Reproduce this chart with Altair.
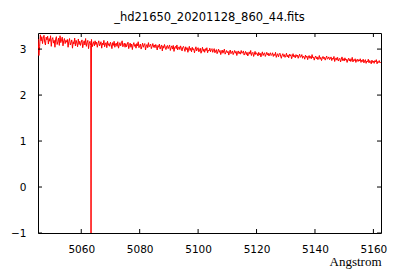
import altair as alt
import pandas as pd

title_text = "_hd21650_20201128_860_44.fits"
x_start = 5045.25
x_step = 0.25
flux = [
    3.22, 2.86, 3.05, 3.31, 3.18, 3.27, 3.12, 3.24, 3.30, 3.15, 3.09, 3.26, 3.20, 3.28, 3.11, 3.23, 3.17, 3.29, 3.06, 3.21,
    3.25, 3.13, 3.19, 3.04, 3.22, 3.27, 3.10, 3.16, 3.24, 3.08, 3.29, 3.14, 3.20, 3.26, 3.07, 3.18, 3.23, 3.12, 3.19, 3.15,
    3.21, 3.04, 3.17, 3.23, 3.09, 3.14, 3.20, 3.02, 3.16, 3.11, 3.24, 3.07, 3.19, 3.13, 3.05, 3.22, 3.10, 3.17, 3.08, 3.15,
    3.20, 3.03, 3.12, 3.18, 3.09, 3.23, 3.06, 3.14, 3.19, 3.01, 3.13, 3.17, 3.08, 3.21, 3.05, 3.11, 3.16, 3.07, 3.18, 3.10,
    3.15, 3.04, 3.12, 3.18, 3.07, 3.10, 3.16, 3.02, 3.13, 3.09, 3.19, 3.05, 3.11, 3.14, 3.03, 3.17, 3.08, 3.12, 3.06, 3.15,
    3.10, 3.01, 3.14, 3.08, 3.17, 3.04, 3.11, 3.13, 3.06, 3.16, 3.02, 3.09, 3.14, 3.07, 3.12, 3.18, 3.05, 3.10, 3.13, 3.04,
    3.12, 3.05, 3.10, 3.15, 3.01, 3.08, 3.13, 3.04, 3.11, 2.99, 3.09, 3.14, 3.06, 3.10, 3.02, 3.12, 3.07, 3.16, 3.03, 3.08,
    3.11, 3.00, 3.06, 3.13, 3.04, 3.09, 3.12, 2.98, 3.07, 3.10, 3.03, 3.14, 3.05, 3.08, 3.11, 3.01, 3.06, 3.12, 3.04, 3.09,
    3.03, 3.10, 3.06, 2.98, 3.08, 3.04, 3.11, 3.00, 3.05, 3.09, 2.96, 3.07, 3.02, 3.10, 3.04, 2.99, 3.06, 3.08, 3.01, 3.05,
    3.09, 2.97, 3.03, 3.07, 3.00, 3.08, 2.95, 3.04, 3.06, 3.01, 3.09, 2.98, 3.03, 3.05, 2.99, 3.07, 3.02, 2.96, 3.04, 3.06,
    3.01, 2.95, 3.05, 2.99, 3.03, 2.93, 3.00, 3.06, 2.97, 3.02, 2.94, 3.04, 2.98, 3.01, 2.92, 2.99, 3.05, 2.96, 3.00, 3.03,
    2.94, 2.98, 3.02, 2.91, 2.97, 3.04, 2.95, 3.00, 2.93, 3.01, 2.97, 3.03, 2.92, 2.98, 2.96, 3.02, 2.94, 2.99, 3.01, 2.93,
    2.97, 3.01, 2.92, 2.96, 2.99, 2.90, 2.95, 3.00, 2.93, 2.97, 2.88, 2.94, 2.98, 2.91, 2.96, 3.00, 2.89, 2.93, 2.97, 2.92,
    2.95, 2.87, 2.94, 2.98, 2.90, 2.93, 2.96, 2.88, 2.92, 2.97, 2.91, 2.95, 2.86, 2.93, 2.96, 2.90, 2.94, 2.89, 2.97, 2.91,
    2.92, 2.96, 2.87, 2.91, 2.95, 2.88, 2.93, 2.85, 2.90, 2.94, 2.89, 2.97, 2.86, 2.91, 2.93, 2.84, 2.89, 2.95, 2.88, 2.92,
    2.90, 2.85, 2.93, 2.87, 2.91, 2.83, 2.89, 2.94, 2.86, 2.90, 2.92, 2.84, 2.88, 2.93, 2.87, 2.91, 2.85, 2.89, 2.92, 2.86,
    2.88, 2.92, 2.84, 2.89, 2.86, 2.93, 2.82, 2.87, 2.90, 2.83, 2.88, 2.91, 2.85, 2.80, 2.87, 2.90, 2.84, 2.88, 2.82, 2.86,
    2.91, 2.83, 2.87, 2.81, 2.89, 2.85, 2.88, 2.79, 2.84, 2.90, 2.83, 2.86, 2.81, 2.88, 2.84, 2.87, 2.80, 2.85, 2.89, 2.82,
    2.84, 2.88, 2.80, 2.85, 2.83, 2.78, 2.87, 2.82, 2.85, 2.77, 2.83, 2.86, 2.80, 2.84, 2.79, 2.88, 2.81, 2.83, 2.76, 2.82,
    2.85, 2.79, 2.83, 2.77, 2.81, 2.86, 2.78, 2.82, 2.75, 2.80, 2.84, 2.79, 2.82, 2.76, 2.81, 2.85, 2.78, 2.80, 2.83, 2.77,
    2.79, 2.83, 2.75, 2.80, 2.78, 2.84, 2.73, 2.79, 2.81, 2.76, 2.82, 2.74, 2.78, 2.80, 2.72, 2.77, 2.83, 2.75, 2.79, 2.74,
    2.81, 2.76, 2.78, 2.71, 2.77, 2.80, 2.74, 2.79, 2.73, 2.76, 2.82, 2.72, 2.77, 2.75, 2.79, 2.71, 2.76, 2.78, 2.73, 2.77,
    2.74, 2.79, 2.71, 2.76, 2.73, 2.78, 2.70, 2.75, 2.77, 2.69, 2.74, 2.72, 2.78, 2.70, 2.75, 2.73, 2.68, 2.76, 2.71, 2.74,
    2.69, 2.75, 2.72, 2.77, 2.68, 2.73, 2.71, 2.75, 2.70, 2.72,
]
# narrow bad-pixel spike
spike_x = [5063.35]
spike_flux = [-1.2]

x_ticks = [5060, 5080, 5100, 5120, 5140, 5160]
y_ticks = [-1, 0, 1, 2, 3]
x_domain = [5045.2, 5162.6]
y_domain = [-1, 3.35]

W, H = 343, 200

wl = [x_start + i * x_step for i in range(len(flux))] + spike_x
df = pd.DataFrame({"wl": wl, "flux": flux + spike_flux}).sort_values("wl")
xt = pd.DataFrame({"t": x_ticks})
yt = pd.DataFrame({"t": y_ticks})

xs = alt.Scale(domain=x_domain, nice=False, zero=False)
ys = alt.Scale(domain=y_domain, nice=False, zero=False)

line = alt.Chart(df).mark_line(color="#ff0000", strokeWidth=1, clip=True).encode(
    x=alt.X("wl:Q", scale=xs, sort=None, axis=alt.Axis(
        values=x_ticks, ticks=False, domain=False, grid=False, labelFont="DejaVu Sans",
        labelFontSize=10.5, labelColor="#000000", labelPadding=11, format="d",
        title="Angstrom", titleFont="Liberation Serif", titleFontSize=13, titleFontWeight="normal",
        titleColor="#000000", titleX=W, titleY=32, titleAlign="right", titleBaseline="alphabetic")),
    y=alt.Y("flux:Q", scale=ys, axis=alt.Axis(
        values=y_ticks, ticks=False, domain=False, grid=False, labelFont="DejaVu Sans",
        labelFontSize=10.5, labelColor="#000000", labelPadding=12, title=None)),
    order=alt.Order("wl:Q"),
)

tick_len = 4
bottom = alt.Chart(xt).mark_rule(color="black").encode(x=alt.X("t:Q", scale=xs), y=alt.value(H), y2=alt.value(H - tick_len))
top = alt.Chart(xt).mark_rule(color="black").encode(x=alt.X("t:Q", scale=xs), y=alt.value(0), y2=alt.value(tick_len))
left = alt.Chart(yt).mark_rule(color="black").encode(y=alt.Y("t:Q", scale=ys), x=alt.value(0), x2=alt.value(tick_len))
right = alt.Chart(yt).mark_rule(color="black").encode(y=alt.Y("t:Q", scale=ys), x=alt.value(W), x2=alt.value(W - tick_len))

chart = alt.layer(line, bottom, top, left, right).properties(
    width=W, height=H,
    title=alt.TitleParams(title_text, font="DejaVu Sans", fontSize=11.5, fontWeight="normal",
                          color="#000000", offset=9, anchor="middle"),
    autosize=alt.AutoSizeParams(type="none"),
    padding={"left": 38, "top": 33, "right": 19, "bottom": 47},
    background="white",
).configure_view(stroke="black", strokeWidth=1)

chart.save("out.html", embed_options={"renderer": "svg", "actions": False})
